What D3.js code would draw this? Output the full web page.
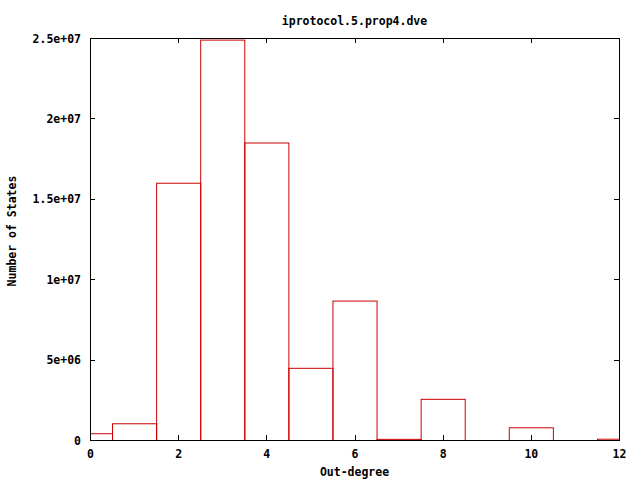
<!DOCTYPE html>
<html>
<head>
<meta charset="utf-8">
<script src="https://cdn.jsdelivr.net/npm/d3@7"></script>
<style>
  body { margin: 0; background: #fff; }
  text { font-family: "DejaVu Sans Mono", "Liberation Mono", monospace; font-weight: bold; font-size: 11.5px; fill: #000; }
</style>
</head>
<body>
<div id="chart"></div>
<script>
// Données
const degrees = [0, 1, 2, 3, 4, 5, 6, 7, 8, 9, 10, 11, 12];
const states = [420000, 1040000, 16000000, 24900000, 18500000, 4490000, 8670000, 70000, 2560000, 0, 790000, 0, 80000];
const xTicks = [0, 2, 4, 6, 8, 10, 12];
const yTicks = [0, 5e6, 1e7, 1.5e7, 2e7, 2.5e7];
const yTickLabels = ["0", "5e+06", "1e+07", "1.5e+07", "2e+07", "2.5e+07"];

const W = 640, H = 480;
const plot = { left: 90, right: 619, top: 38, bottom: 440 };

const svg = d3.select('#chart').append('svg')
    .attr('width', W)
    .attr('height', H);

const x = d3.scaleLinear().domain([0, 12]).range([plot.left, plot.right]);
const y = d3.scaleLinear().domain([0, 2.5e7]).range([plot.bottom, plot.top]);

// Barres (contours seulement)
const data = degrees.map((d, i) => ({ deg: d, val: states[i] })).filter(d => d.val > 0);
svg.append('g')
    .selectAll('rect')
    .data(data)
    .join('rect')
    .attr('x', d => x(Math.max(d.deg - 0.5, 0)) + 0.5)
    .attr('y', d => y(d.val) + 0.5)
    .attr('width', d => x(Math.min(d.deg + 0.5, 12)) - x(Math.max(d.deg - 0.5, 0)))
    .attr('height', d => Math.max(y(0) - y(d.val), 0.01))
    .attr('fill', 'none')
    .attr('stroke', '#cc0000')
    .attr('stroke-width', 1);

// Axes : ticks vers l'intérieur, en miroir
const tick = 5;
const axes = svg.append('g').attr('stroke', '#000').attr('stroke-width', 1);
xTicks.forEach(t => {
    const px = Math.round(x(t)) + 0.5;
    axes.append('line').attr('x1', px).attr('x2', px).attr('y1', plot.bottom).attr('y2', plot.bottom - tick);
    axes.append('line').attr('x1', px).attr('x2', px).attr('y1', plot.top).attr('y2', plot.top + tick);
});
yTicks.forEach(t => {
    const py = Math.round(y(t)) + 0.5;
    axes.append('line').attr('x1', plot.left).attr('x2', plot.left + tick).attr('y1', py).attr('y2', py);
    axes.append('line').attr('x1', plot.right).attr('x2', plot.right - tick).attr('y1', py).attr('y2', py);
});
axes.append('rect')
    .attr('x', plot.left + 0.5).attr('y', plot.top + 0.5)
    .attr('width', plot.right - plot.left).attr('height', plot.bottom - plot.top)
    .attr('fill', 'none');

// Libellés des ticks
svg.append('g').selectAll('text')
    .data(xTicks)
    .join('text')
    .attr('x', d => x(d) + 0.5)
    .attr('y', 458)
    .attr('text-anchor', 'middle')
    .text(d => d);

svg.append('g').selectAll('text')
    .data(yTicks)
    .join('text')
    .attr('x', 81)
    .attr('y', d => y(d) + 4.5)
    .attr('text-anchor', 'end')
    .text((d, i) => yTickLabels[i]);

// Titre et axes
svg.append('text')
    .attr('x', (plot.left + plot.right) / 2)
    .attr('y', 25)
    .attr('text-anchor', 'middle')
    .text('iprotocol.5.prop4.dve');

svg.append('text')
    .attr('x', (plot.left + plot.right) / 2)
    .attr('y', 476)
    .attr('text-anchor', 'middle')
    .text('Out-degree');

svg.append('text')
    .attr('transform', 'translate(16,231) rotate(-90)')
    .attr('text-anchor', 'middle')
    .text('Number of States');
</script>
</body>
</html>
